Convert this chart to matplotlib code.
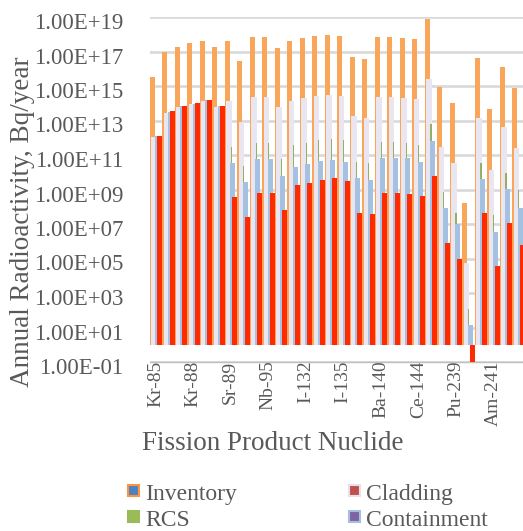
import numpy as np
import matplotlib
matplotlib.use("Agg")
import matplotlib.pyplot as plt
from matplotlib.ticker import FixedLocator, FuncFormatter, NullLocator
from matplotlib.patches import Rectangle
from matplotlib.transforms import ScaledTranslation

nuclides = ["Kr-85", "Kr-85m", "Kr-87", "Kr-88", "Xe-133", "Xe-135",
            "Sr-89", "Sr-90", "Zr-95", "Nb-95", "Ru-106", "I-131",
            "I-132", "I-133", "I-134", "I-135", "Cs-134", "Cs-137",
            "Ba-140", "La-140", "Ce-141", "Ce-144", "Np-239", "Pu-238",
            "Pu-239", "Pu-240", "Pu-241", "Am-241", "Cm-242", "Cm-244"]
shown_labels = ["Kr-85", "Kr-88", "Sr-89", "Nb-95", "I-132", "I-135",
                "Ba-140", "Ce-144", "Pu-239", "Am-241"]

inventory = [3.5e15, 9.8e16, 1.9e17, 3.0e17, 4.3e17, 1.9e17,
             4.1e17, 3.0e16, 6.6e17, 6.6e17, 1.7e17, 3.9e17,
             5.8e17, 7.9e17, 9.1e17, 7.6e17, 5.0e16, 3.8e16,
             7.2e17, 7.2e17, 6.3e17, 5.1e17, 7.4e18, 8.3e14,
             1.1e14, 1.6e8, 4.4e16, 4.5e13, 1.2e16, 7.4e14]
cladding = [1.15e12, 2.6e13, 6.3e13, 9.1e13, 1.4e14, 6.3e13,
            1.4e14, 8.5e12, 2.2e14, 2.2e14, 5.9e13, 1.35e14,
            1.95e14, 2.75e14, 3.0e14, 2.6e14, 1.8e13, 1.35e13,
            2.4e14, 2.4e14, 2.1e14, 1.7e14, 2.5e15, 3.0e11,
            3.3e10, 5.2e4, 1.45e13, 1.35e10, 4.4e12, 2.5e11]
rcs = [1.2e12, 3.2e13, 6.6e13, 9.5e13, 1.5e14, 6.6e13,
       3.0e11, 2.3e10, 5.1e11, 5.1e11, 5.6e10, 3.6e11,
       5.1e11, 7.4e11, 8.1e11, 7.4e11, 4.1e10, 3.3e10,
       5.6e11, 5.9e11, 5.1e11, 3.6e11, 6.0e12, 7.4e8,
       4.2e7, 1.15e2, 3.4e10, 3.3e7, 9.5e9, 1.0e9]
containment = [1.2e12, 3.2e13, 6.6e13, 9.5e13, 1.5e14, 6.6e13,
               3.5e10, 2.7e9, 6.2e10, 6.2e10, 6.3e9, 2.1e10,
               3.0e10, 4.5e10, 4.9e10, 4.1e10, 4.9e9, 3.5e9,
               6.5e10, 6.5e10, 6.5e10, 4.1e10, 6.5e11, 8.1e7,
               1.0e7, 1.4e1, 3.9e9, 3.5e6, 1.05e9, 8.1e7]
environment = [1.25e12, 3.5e13, 6.9e13, 1.0e14, 1.55e14, 6.9e13,
               3.7e8, 2.5e7, 5.9e8, 6.3e8, 6.5e7, 1.8e9,
               2.5e9, 3.5e9, 4.5e9, 3.2e9, 4.5e7, 3.6e7,
               6.0e8, 6.5e8, 5.5e8, 4.2e8, 6.0e9, 8.0e5,
               1.0e5, 0.05, 4.2e7, 3.7e4, 1.1e7, 6.0e5]

W, H = 523, 531
fig = plt.figure(figsize=(W / 100, H / 100), dpi=100)
serif = ["Liberation Serif", "DejaVu Serif"]
txt = "#595959"

ax = fig.add_axes([149.5 / W, 1 - 362 / H, 375 / W, (362 - 17) / H])
ax.set_yscale("log")
ax.set_ylim(0.1, 1e19)
ax.set_xlim(-0.5, 29.5)

x = np.arange(len(nuclides))
series = [
    (inventory, -0.30, 0.40, "#F9A65A", 2),
    (cladding, -0.16, 0.44, "#E9E5F1", 3),
    (rcs, 0.025, 0.09, "#93B064", 4),
    (containment, 0.16, 0.40, "#A5C1E2", 5),
    (environment, 0.30, 0.40, "#FF2A00", 6),
]
for vals, off, w, col, z in series:
    v = np.asarray(vals, dtype=float)
    ax.bar(x + off, v - 1.0, bottom=1.0, width=w, color=col, zorder=z,
           linewidth=0)

ax.yaxis.set_major_locator(FixedLocator(10.0 ** np.arange(-1, 20, 2)))
ax.yaxis.set_minor_locator(NullLocator())
ax.yaxis.set_major_formatter(FuncFormatter(lambda v, p: f"{v:.2E}"))
ax.yaxis.grid(True, color="#D9D9D9", linewidth=1.9, zorder=0)
ax.set_axisbelow(True)
ax.tick_params(axis="y", length=0, pad=19, labelsize=16.5, labelcolor=txt)
for lab in ax.get_yticklabels():
    lab.set_fontfamily(serif)
    lab.set_transform(lab.get_transform() +
                      ScaledTranslation(0, -4 / 100, fig.dpi_scale_trans))

pos = [nuclides.index(n) for n in shown_labels]
ax.set_xticks(pos)
ax.set_xticklabels(shown_labels, rotation=90, fontsize=14, color=txt,
                   family=serif)
ax.tick_params(axis="x", length=0, pad=-1)

for s in ["left", "top", "right"]:
    ax.spines[s].set_visible(False)
ax.spines["bottom"].set_color("#BFBFBF")
ax.spines["bottom"].set_linewidth(1.0)

ax.set_ylabel("Annual Radioactivity, Bq/year", fontsize=19.5, color=txt,
              family=serif)
ax.yaxis.set_label_coords((23 - 149.5) / 375, (362 - 222) / 345)
ax.yaxis.label.set_va("center")
ax.set_xlabel("Fission Product Nuclide", fontsize=19.5, color=txt,
              family=serif)
ax.xaxis.set_label_coords((272.5 - 149.5) / 375, (362 - 443) / 345)
ax.xaxis.label.set_va("center")

legend_items = [
    ("Inventory", "#4F81BD", "#F79646", 128, 500),
    ("Cladding", "#C0504D", "#E6E0EC", 349, 500),
    ("RCS", "#9BBB59", "#9BBB59", 128, 526),
    ("Containment", "#8064A2", "#A6BFE0", 349, 526),
]
for name, face, edge, lx, base in legend_items:
    r = Rectangle((lx / W, 1 - (base - 4) / H), 11 / W, 11 / H,
                  transform=fig.transFigure, facecolor=face, edgecolor=edge,
                  linewidth=1.5)
    fig.add_artist(r)
    fig.text((lx + 17) / W, 1 - base / H, name, fontsize=17, color=txt,
             family=serif, va="baseline", ha="left")

fig.savefig("out.png", dpi=100)
